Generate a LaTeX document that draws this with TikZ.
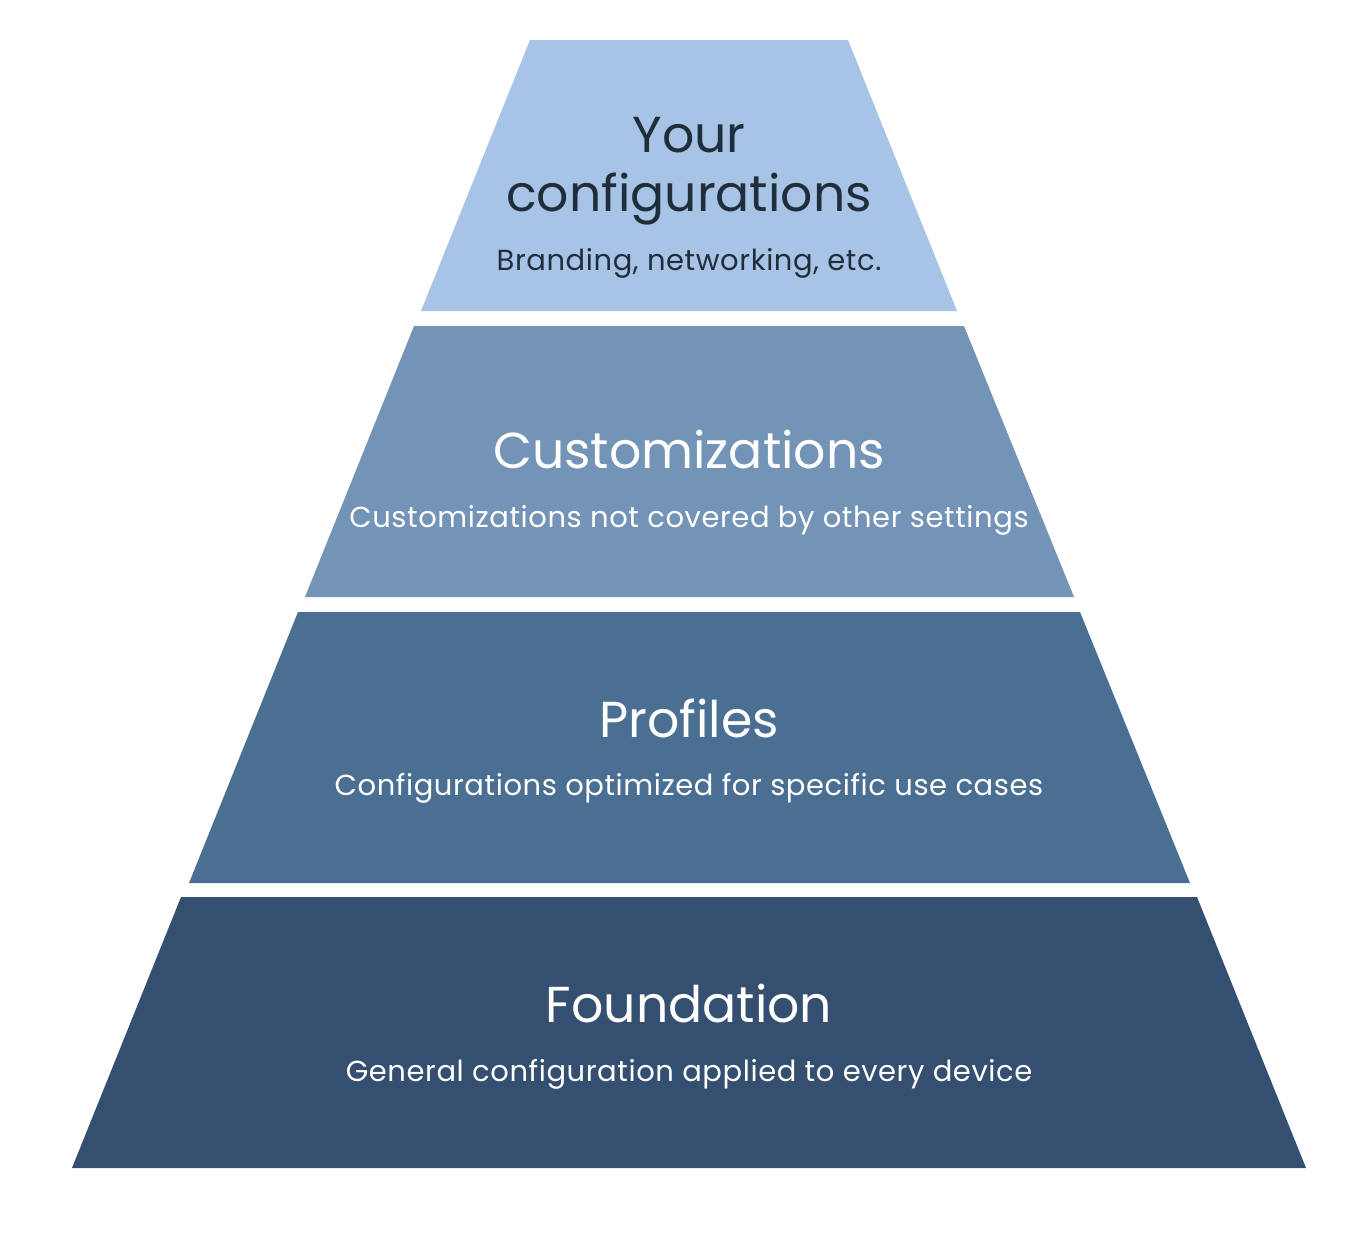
\documentclass[tikz,border=0pt]{standalone}
\usepackage{fontspec}
\setmainfont{Poppins}
\newfontfamily\subfont[LetterSpace=2]{Poppins}
\definecolor{layerA}{HTML}{A7C3E6}
\definecolor{layerB}{HTML}{7393B7}
\definecolor{layerC}{HTML}{4B6F93}
\definecolor{layerD}{HTML}{344F6F}
\definecolor{darktext}{HTML}{1F2E3A}
\newcommand{\titlesize}{\fontsize{50.5}{58}\selectfont}
\newcommand{\subsize}{\subfont\fontsize{29}{34}\selectfont}

\begin{document}
\begin{tikzpicture}[x=1pt,y=-1pt]
        \tikzset{title/.style={anchor=base, font=\titlesize, text=white, inner sep=0pt},
                 subtitle/.style={anchor=base, font=\subsize, text=white, inner sep=0pt}}
        \useasboundingbox (0,0) rectangle (1364,1251);
        % layers, top to bottom
        \fill[layerA] (530,40) -- (848,40) -- (957,311) -- (421,311) -- cycle;
        \fill[layerB] (414,326) -- (964,326) -- (1074,597) -- (305,597) -- cycle;
        \fill[layerC] (298,612) -- (1080,612) -- (1190,883) -- (189,883) -- cycle;
        \fill[layerD] (181,897) -- (1197,897) -- (1306,1168) -- (72,1168) -- cycle;
        % labels
        \node[title, text=darktext] (yourA) at (689,152) {Your};
        \node[title, text=darktext] (yourB) at (689,211) {configurations};
        \node[subtitle, text=darktext] (yoursub) at (689,270) {Branding, networking, etc.};
        \node[title] (custom) at (689,468) {Customizations};
        \node[subtitle] (customsub) at (689,527) {Customizations not covered by other settings};
        \node[title] (profiles) at (689,737) {Profiles};
        \node[subtitle] (profilessub) at (689,795) {Configurations optimized for specific use cases};
        \node[title] (found) at (689,1022) {Foundation};
        \node[subtitle] (foundsub) at (689,1081) {General configuration applied to every device};
    \end{tikzpicture}
\end{document}
